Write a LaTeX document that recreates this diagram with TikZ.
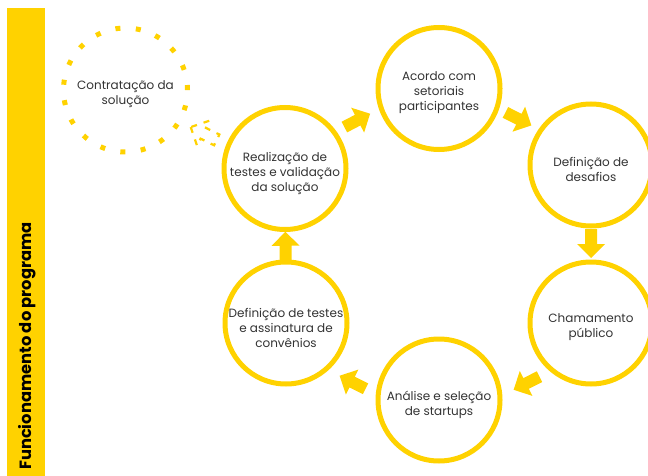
\documentclass[tikz,border=0pt]{standalone}
\usepackage{fontspec}
\setmainfont{Poppins}
\usetikzlibrary{calc}
\definecolor{gold}{HTML}{FFD200}
\definecolor{ink}{HTML}{333333}

% block arrow half-way between two nodes, moved sideways by #3,
% drawn with the path style #4 and its centre named #5
\newcommand\blockarrow[5]{%
  \coordinate (#5) at ($(#1)!0.5!(#2)!#3!90:(#2)$);
  \path[#4] let \p1=($(#2)-(#1)$), \n1={atan2(\y1,\x1)} in
    ($(#5)+(\n1:14pt)$)
    -- ($(#5)+(\n1+90:14pt)$)
    -- ($(#5)+(\n1+90:6pt)$)
    -- ($(#5)+(\n1+90:6pt)+(\n1+180:15pt)$)
    -- ($(#5)+(\n1-90:6pt)+(\n1+180:15pt)$)
    -- ($(#5)+(\n1-90:6pt)$)
    -- ($(#5)+(\n1-90:14pt)$)
    -- cycle;}

\begin{document}
\begin{tikzpicture}[x=1pt,y=-1pt,
  stage/.style={circle, draw=gold, line width=5pt, minimum size=122pt, inner sep=0pt},
  optstage/.style={circle, draw=gold, line width=5pt, minimum size=124pt, inner sep=0pt,
    dash pattern=on 5pt off 15.5pt},
  caption/.style={align=center, text=ink, inner sep=0pt, yshift=-4.5pt,
    font=\fontsize{12}{15}\selectfont},
  flow/.style={fill=gold},
  optflow/.style={draw=gold, line width=2.2pt, dash pattern=on 6pt off 7pt, line join=miter},
  bartext/.style={rotate=90, anchor=west, inner sep=0pt, text=black,
    font=\bfseries\fontsize{16.3}{18}\selectfont}]
\useasboundingbox (0,0) rectangle (648,476);

% side banner
\fill[gold] (7,8) rectangle (45,476);
\node[bartext] (title) at (27,470) {Funcionamento do programa};

% optional stage (dotted)
\node[optstage] (c0) at (125.5,90) {};
\node[caption] (c0t) at (c0.center) {Contratação da\\solução};

% cycle stages
\node[stage] (s1) at (439,88.5) {};
\node[stage] (s2) at (591,165) {};
\node[stage] (s3) at (591,323) {};
\node[stage] (s4) at (439,400) {};
\node[stage] (s5) at (286,323) {};
\node[stage] (s6) at (285,168.5) {};

\node[caption] (s1t) at (s1.center) {Acordo com\\setoriais\\participantes};
\node[caption] (s2t) at (s2.center) {Definição de\\desafios};
\node[caption] (s3t) at (s3.center) {Chamamento\\público};
\node[caption] (s4t) at (s4.center) {Análise e seleção\\de startups};
\node[caption] (s5t) at (s5.center) {Definição de testes\\e assinatura de\\convênios};
\node[caption] (s6t) at (s6.center) {Realização de\\testes e validação\\da solução};

% arrows of the cycle
\blockarrow{s6}{s1}{9.4pt}{flow}{a1}
\blockarrow{s1}{s2}{8.5pt}{flow}{a2}
\blockarrow{s2}{s3}{0pt}{flow}{a3}
\blockarrow{s3}{s4}{24.6pt}{flow}{a4}
\blockarrow{s4}{s5}{23pt}{flow}{a5}
\blockarrow{s5}{s6}{0pt}{flow}{a6}

% dashed arrow towards the optional stage
\blockarrow{s6}{c0}{4.5pt}{optflow}{a0}
\end{tikzpicture}
\end{document}
